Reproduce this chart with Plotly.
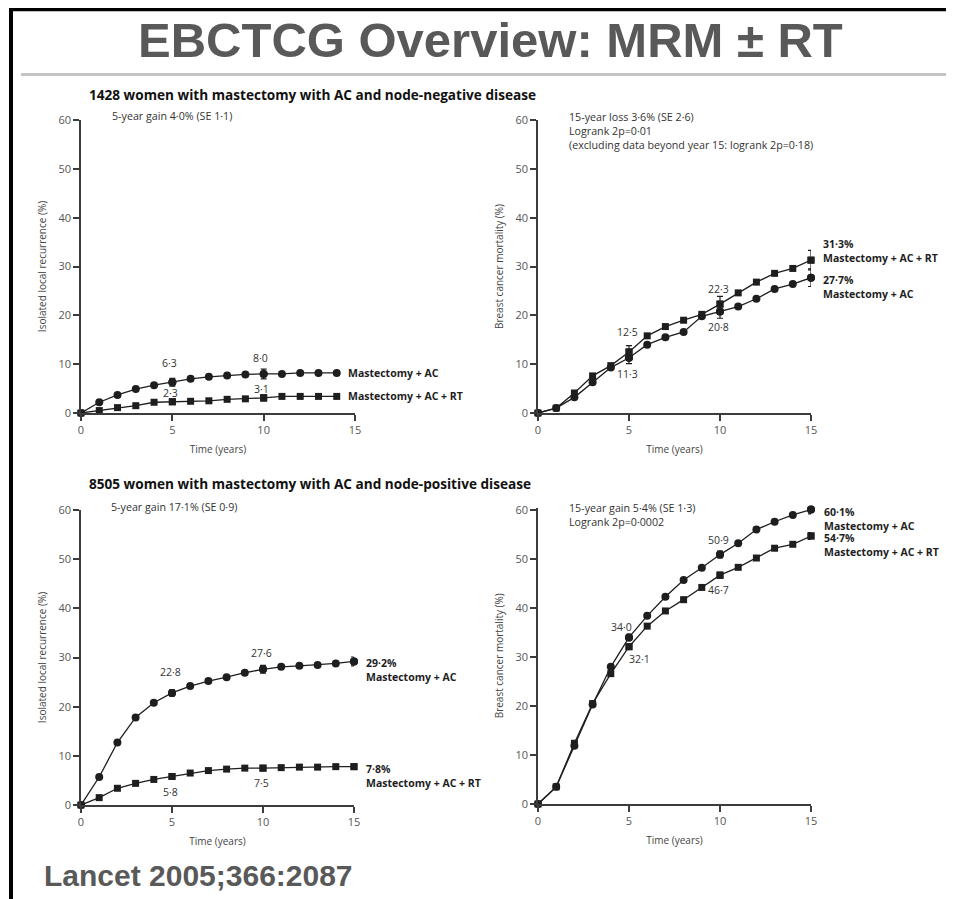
import plotly.graph_objects as go

OFF = 8              # default body margin of the html page
W, H = 954 - OFF, 899 - OFF   # figure fills the window from the body margin on

# ---------------- data ----------------
years = list(range(0, 16))
years_tl = list(range(0, 15))

# node-negative, isolated local recurrence (%)
tl_ac = [0, 2.2, 3.7, 4.9, 5.7, 6.3, 7.0, 7.4, 7.7, 7.9, 8.0, 8.0, 8.2, 8.2, 8.2]
tl_rt = [0, 0.5, 1.1, 1.5, 2.2, 2.3, 2.4, 2.5, 2.8, 2.9, 3.1, 3.4, 3.4, 3.4, 3.4]
# node-negative, breast cancer mortality (%)
tr_ac = [0, 1.0, 3.2, 6.3, 9.3, 11.3, 14.0, 15.5, 16.6, 19.8, 20.8, 21.8, 23.4, 25.4, 26.4, 27.7]
tr_rt = [0, 1.0, 4.1, 7.6, 9.7, 12.5, 15.8, 17.7, 19.0, 20.2, 22.3, 24.6, 26.8, 28.6, 29.6, 31.3]
# node-positive, isolated local recurrence (%)
bl_ac = [0, 5.7, 12.7, 17.8, 20.8, 22.8, 24.2, 25.2, 26.0, 26.9, 27.6, 28.1, 28.3, 28.5, 28.8, 29.2]
bl_rt = [0, 1.5, 3.4, 4.4, 5.2, 5.8, 6.5, 7.0, 7.3, 7.5, 7.5, 7.6, 7.7, 7.7, 7.8, 7.8]
# node-positive, breast cancer mortality (%)
br_ac = [0, 3.5, 11.9, 20.3, 28.0, 34.0, 38.4, 42.3, 45.7, 48.2, 50.9, 53.2, 56.0, 57.6, 59.0, 60.1]
br_rt = [0, 3.5, 12.4, 20.5, 26.6, 32.1, 36.3, 39.4, 41.7, 44.2, 46.7, 48.3, 50.2, 52.2, 53.0, 54.7]

# error bars (years, +/- SE)
err_tl_ac = ([5, 10], [0.8, 1.0])
err_tl_rt = ([5, 10], [0.5, 0.6])
err_tr_ac = ([5, 10, 15], [1.2, 1.4, 1.8])
err_tr_rt = ([5, 10, 15], [1.3, 1.6, 2.0])
err_bl_ac = ([5, 10, 15], [0.6, 0.8, 0.9])
err_bl_rt = ([5, 10, 15], [0.3, 0.3, 0.3])
err_br_ac = ([5, 10, 15], [0.6, 0.7, 0.9])
err_br_rt = ([5, 10, 15], [0.5, 0.6, 0.7])

x_ticks = [0, 5, 10, 15]
y_ticks = [0, 10, 20, 30, 40, 50, 60]

title_text = "EBCTCG Overview: MRM ± RT"
source_text = "Lancet 2005;366:2087"
sub_top = "1428 women with mastectomy with AC and node-negative disease"
sub_bot = "8505 women with mastectomy with AC and node-positive disease"
name_ac = "Mastectomy + AC"
name_rt = "Mastectomy + AC + RT"
ylab_rec = "Isolated local recurrence (%)"
ylab_mort = "Breast cancer mortality (%)"
xlab = "Time (years)"

# ---------------- helpers (window pixel -> paper) ----------------
def px(x):
    return (x - OFF) / W

def py(y):
    return 1 - (y - OFF) / H

FONT = "Open Sans, Noto Sans, DejaVu Sans, sans-serif"
INK = "#1e1e1e"
AXC = "#3c3c3c"

fig = go.Figure()

panels = [
    # (suffix, x px span, (y px at 0, y px at 60), ac, rt, years, err_ac, err_rt, ylabel, ytop)
    ("", (81, 355), (413, 120), tl_ac, tl_rt, years_tl, err_tl_ac, err_tl_rt, ylab_rec, 60),
    ("2", (538, 811), (413, 120), tr_ac, tr_rt, years, err_tr_ac, err_tr_rt, ylab_mort, 60),
    ("3", (81, 354), (805, 510), bl_ac, bl_rt, years, err_bl_ac, err_bl_rt, ylab_rec, 60),
    ("4", (538, 811), (804, 510), br_ac, br_rt, years, err_br_ac, err_br_rt, ylab_mort, 60.5),
]

for suf, (x0, x1), (yb, yt), ac, rt, yrs, eac, ert, ylab, ytop in panels:
    xa, ya = "x" + suf, "y" + suf
    yt_adj = yt - (ytop - 60) * (yb - yt) / 60.0
    for vals, sym, size, err in [(ac, "circle", 8, eac), (rt, "square", 7, ert)]:
        fig.add_trace(go.Scatter(
            x=yrs, y=vals, mode="lines+markers", xaxis=xa, yaxis=ya,
            line=dict(color=INK, width=1.3),
            marker=dict(symbol=sym, size=size, color=INK, line=dict(width=0)),
            cliponaxis=False, showlegend=False, hoverinfo="skip"))
        ex, ev = err
        ey = [vals[yrs.index(e)] for e in ex]
        fig.add_trace(go.Scatter(
            x=ex, y=ey, mode="markers", xaxis=xa, yaxis=ya,
            marker=dict(symbol=sym, size=size, color=INK, line=dict(width=0)),
            error_y=dict(type="data", array=ev, visible=True, color=INK,
                         thickness=1.2, width=3),
            cliponaxis=False, showlegend=False, hoverinfo="skip"))
    axis_common = dict(showline=True, linecolor=AXC, linewidth=1.5, ticks="outside",
                       ticklen=6, tickwidth=1.5, tickcolor=AXC, showgrid=False,
                       zeroline=False, automargin=False,
                       tickfont=dict(family=FONT, size=11, color="#555"))
    fig.update_layout(**{
        "xaxis" + suf: dict(domain=[px(x0), px(x1)], range=[0, 15], anchor=ya,
                            tickvals=x_ticks, ticktext=[str(t) for t in x_ticks],
                            title=dict(text=xlab, font=dict(family=FONT, size=10, color="#444"),
                                       standoff=10),
                            **axis_common),
        "yaxis" + suf: dict(domain=[py(yb), py(yt_adj)], range=[0, ytop], anchor=xa,
                            tickvals=y_ticks, ticktext=[str(t) for t in y_ticks],
                            title=dict(text=ylab, font=dict(family=FONT, size=10, color="#444"),
                                       standoff=10),
                            **axis_common),
    })

ann = []

def data_note(suf, x, y, text, xs=0, ys=0, size=10.5, color="#333", xanchor="center",
              yanchor="middle", bold=False):
    ann.append(dict(xref="x" + suf, yref="y" + suf, x=x, y=y,
                    text=("<b>%s</b>" % text) if bold else text, showarrow=False,
                    xshift=xs, yshift=ys, xanchor=xanchor, yanchor=yanchor, align="left",
                    font=dict(family=FONT, size=size, color=color)))

def paper_note(x, y, text, size=10.7, color="#333", xanchor="left", yanchor="middle",
               family=FONT, align="left"):
    ann.append(dict(xref="paper", yref="paper", x=px(x), y=py(y), text=text,
                    showarrow=False, xanchor=xanchor, yanchor=yanchor, align=align,
                    font=dict(family=family, size=size, color=color)))

# point labels
data_note("", 5, tl_ac[5], "6·3", -3, 19)
data_note("", 10, tl_ac[10], "8·0", -3, 16)
data_note("", 5, tl_rt[5], "2·3", -2, 9)
data_note("", 10, tl_rt[10], "3·1", -2, 9)
data_note("2", 5, tr_rt[5], "12·5", -2, 20)
data_note("2", 5, tr_ac[5], "11·3", -2, -16)
data_note("2", 10, tr_rt[10], "22·3", -2, 15)
data_note("2", 10, tr_ac[10], "20·8", -2, -16)
data_note("3", 5, bl_ac[5], "22·8", -2, 21)
data_note("3", 10, bl_ac[10], "27·6", -2, 16)
data_note("3", 5, bl_rt[5], "5·8", -2, -16)
data_note("3", 10, bl_rt[10], "7·5", -2, -15)
data_note("4", 5, br_ac[5], "34·0", -8, 10)
data_note("4", 5, br_rt[5], "32·1", 10, -12)
data_note("4", 10, br_ac[10], "50·9", -2, 15)
data_note("4", 10, br_rt[10], "46·7", -2, -15)

# end labels
data_note("", 14, tl_ac[-1], name_ac, 9, 0, xanchor="left", bold=True, color=INK)
data_note("", 14, tl_rt[-1], name_rt, 9, 0, xanchor="left", bold=True, color=INK)
data_note("2", 15, tr_rt[-1], "31·3%<br>" + name_rt, 10, -7, xanchor="left",
          yanchor="bottom", bold=True, color=INK)
data_note("2", 15, tr_ac[-1], "27·7%<br>" + name_ac, 10, 7, xanchor="left",
          yanchor="top", bold=True, color=INK)
data_note("3", 15, bl_ac[-1], "29·2%<br>" + name_ac, 10, 7, xanchor="left",
          yanchor="top", bold=True, color=INK)
data_note("3", 15, bl_rt[-1], "7·8%<br>" + name_rt, 10, 7, xanchor="left",
          yanchor="top", bold=True, color=INK)
data_note("4", 15, br_ac[-1], "60·1%<br>" + name_ac, 11, 7, xanchor="left",
          yanchor="top", bold=True, color=INK)
data_note("4", 15, br_rt[-1], "54·7%<br>" + name_rt, 11, 7, xanchor="left",
          yanchor="top", bold=True, color=INK)

# panel header notes
paper_note(110, 116, "5-year gain 4·0% (SE 1·1)")
paper_note(567, 108, "15-year loss 3·6% (SE 2·6)<br>Logrank 2p=0·01<br>"
           "(excluding data beyond year 15: logrank 2p=0·18)", yanchor="top")
paper_note(109, 507, "5-year gain 17·1% (SE 0·9)")
paper_note(567, 499, "15-year gain 5·4% (SE 1·3)<br>Logrank 2p=0·0002", yanchor="top")

# subtitles
paper_note(87, 94, "<b>%s</b>" % sub_top, size=13.6, color="#111")
paper_note(87, 483, "<b>%s</b>" % sub_bot, size=13.6, color="#111")

# main title and source
paper_note(490, 40, "<b>%s</b>" % title_text, size=49, color="#595959",
           xanchor="center", family="Liberation Sans, Arial, sans-serif")
paper_note(42, 875, "<b>%s</b>" % source_text, size=30, color="#595959",
           family="Liberation Sans, Arial, sans-serif")

shapes = [
    # black frame (top and left)
    dict(type="line", xref="paper", yref="paper", x0=px(9), x1=1, y0=py(9.5), y1=py(9.5),
         line=dict(color="black", width=3.5)),
    dict(type="line", xref="paper", yref="paper", x0=px(11), x1=px(11), y0=py(8), y1=0,
         line=dict(color="black", width=4)),
    # grey rule under title
    dict(type="line", xref="paper", yref="paper", x0=px(21), x1=1, y0=py(74.5), y1=py(74.5),
         line=dict(color="#c4c4c4", width=3)),
]

fig.update_layout(width=W, height=H, margin=dict(l=0, r=0, t=0, b=0, pad=0),
                  paper_bgcolor="white", plot_bgcolor="white",
                  annotations=ann, shapes=shapes, showlegend=False,
                  font=dict(family=FONT))

fig.write_html("out.html")
